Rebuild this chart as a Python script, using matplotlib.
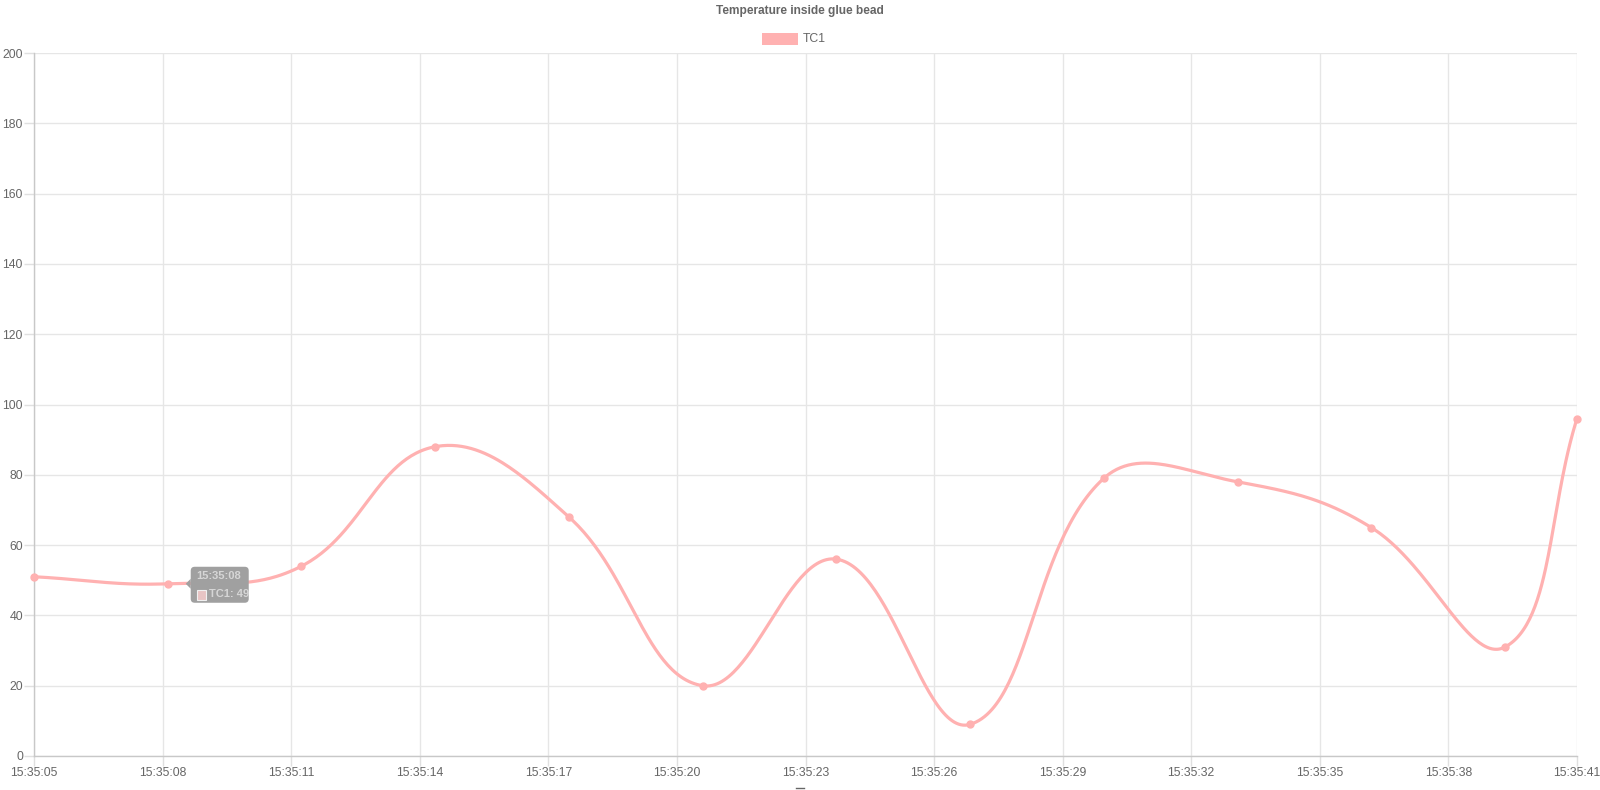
import numpy as np
import pandas as pd
import matplotlib
matplotlib.use("Agg")
import matplotlib.pyplot as plt
import matplotlib.dates as mdates
from matplotlib.patches import FancyBboxPatch, Rectangle, Polygon
from matplotlib.lines import Line2D

# Données
times = ["15:35:05.00", "15:35:08.12", "15:35:11.24", "15:35:14.36", "15:35:17.48",
         "15:35:20.60", "15:35:23.72", "15:35:26.84", "15:35:29.96", "15:35:33.08",
         "15:35:36.20", "15:35:39.32", "15:35:41.00"]
tc1 = [51, 49, 54, 88, 68, 20, 56, 9, 79, 78, 65, 31, 96]
series_name = "TC1"
title = "Temperature inside glue bead"
tooltip_title = "15:35:08"
tooltip_index = 1

plt.rcParams["font.family"] = ["Liberation Sans", "DejaVu Sans"]
line_col = "#ffb1b1"
text_col = "#666666"

t = pd.to_datetime(["2020-01-01 " + s for s in times])
xnum = mdates.date2num(t.to_pydatetime())
y = np.array(tc1, dtype=float)

W, H = 1600, 790
fig = plt.figure(figsize=(W / 100, H / 100), dpi=100)
ax = fig.add_axes([34 / W, 1 - 756 / H, (1577 - 34) / W, (756 - 53) / H])
ax.set_xlim(xnum[0], xnum[-1])
ax.set_ylim(0, 200)

# Courbe façon Chart.js (tension 0.4), calculée en pixels
pix = ax.transData.transform(np.column_stack([xnum, y]))
n = len(pix)
cp_prev = np.zeros_like(pix)
cp_next = np.zeros_like(pix)
for i in range(n):
    prev = pix[i - 1] if i > 0 else pix[i]
    nxt = pix[i + 1] if i < n - 1 else pix[i]
    d01 = np.hypot(*(pix[i] - prev))
    d12 = np.hypot(*(nxt - pix[i]))
    tot = d01 + d12
    s01 = d01 / tot if tot else 0
    s12 = d12 / tot if tot else 0
    cp_prev[i] = pix[i] - 0.4 * s01 * (nxt - prev)
    cp_next[i] = pix[i] + 0.4 * s12 * (nxt - prev)

u = np.linspace(0, 1, 60)[:, None]
curve = []
for i in range(n - 1):
    p0, p1, p2, p3 = pix[i], cp_next[i], cp_prev[i + 1], pix[i + 1]
    seg = (1 - u) ** 3 * p0 + 3 * (1 - u) ** 2 * u * p1 + 3 * (1 - u) * u ** 2 * p2 + u ** 3 * p3
    curve.append(seg if i == 0 else seg[1:])
curve = ax.transData.inverted().transform(np.vstack(curve))
ax.plot(curve[:, 0], curve[:, 1], color=line_col, lw=2.3, zorder=3, solid_capstyle="round", clip_on=False)
ax.plot(xnum, y, "o", color=line_col, ms=5, zorder=4, clip_on=False)

# Axes et grille
ax.xaxis.set_major_locator(mdates.SecondLocator(bysecond=range(5, 60, 3)))
ax.xaxis.set_major_formatter(mdates.DateFormatter("%H:%M:%S"))
ax.set_yticks(np.arange(0, 201, 20))
ax.grid(True, color="#e6e6e6", lw=1)
ax.set_axisbelow(True)
for side in ["top", "right"]:
    ax.spines[side].set_visible(False)
for side in ["left", "bottom"]:
    ax.spines[side].set_color("#c8c8c8")
    ax.spines[side].set_linewidth(1)
ax.tick_params(axis="both", colors="#e0e0e0", labelcolor=text_col, labelsize=8.8, length=7, width=1)
ax.tick_params(axis="x", pad=1)
ax.tick_params(axis="y", pad=1)

# Titre et légende
fig.text(0.5, 1 - 11 / H, title, ha="center", va="center", fontsize=8.6, fontweight="bold", color=text_col)
fig.patches.append(Rectangle((762 / W, 1 - 45 / H), 36 / W, 12 / H, transform=fig.transFigure,
                             facecolor=line_col, edgecolor="none"))
fig.text(803 / W, 1 - 39 / H, series_name, ha="left", va="center", fontsize=8.8, color=text_col)

# Infobulle
px, py = ax.transData.transform((xnum[tooltip_index], y[tooltip_index]))
tip_col = "#a0a0a0"
bx0, by0, bw, bh = px + 23, py - 19, 58, 36
box = FancyBboxPatch((bx0, by0), bw, bh, boxstyle="round,pad=0,rounding_size=4",
                     transform=None, facecolor=tip_col, edgecolor="none", zorder=6)
fig.patches.append(box)
fig.patches.append(Polygon([[bx0, py + 5], [bx0 - 5, py], [bx0, py - 5]], closed=True,
                           transform=None, facecolor=tip_col, edgecolor="none", zorder=6))
fig.text((bx0 + 6) / W, (by0 + bh - 9) / H, tooltip_title, ha="left", va="center",
         fontsize=8, fontweight="bold", color="#d6d6d6", zorder=7)
fig.patches.append(Rectangle(((bx0 + 6) / W, (by0 + 3) / H), 9 / W, 10 / H, transform=fig.transFigure,
                             facecolor="#e8c4c4", edgecolor="#f0f0f0", lw=0.8, zorder=7))
fig.text((bx0 + 18) / W, (by0 + 9) / H, f"{series_name}: {int(tc1[tooltip_index])}", ha="left",
         va="center", fontsize=8, fontweight="bold", color="#d6d6d6", zorder=7)

# Petit trait coupé en bas (haut du titre d'axe)
fig.lines.append(Line2D([796 / W, 804 / W], [2.5 / H, 2.5 / H], transform=fig.transFigure,
                        color=text_col, lw=1))

plt.savefig("out.png", dpi=100)
plt.close()
